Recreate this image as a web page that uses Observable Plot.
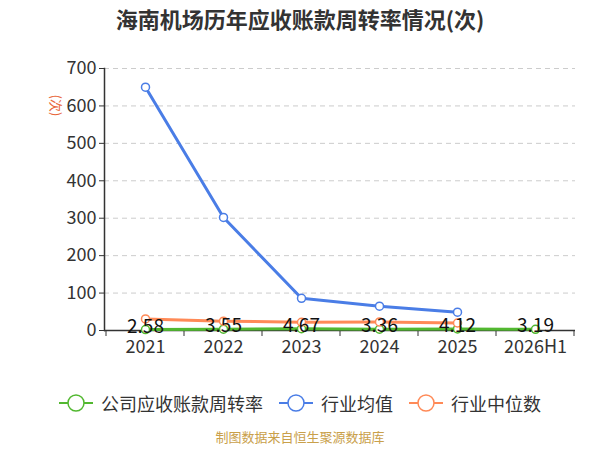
<!DOCTYPE html>
<html><head><meta charset="utf-8">
<script src="https://cdn.jsdelivr.net/npm/d3@7"></script>
<script src="https://cdn.jsdelivr.net/npm/@observablehq/plot@0.6"></script>
<style>
body{margin:0;background:#fff;font-family:"Noto Sans CJK SC","Noto Sans",sans-serif;width:600px;height:450px;overflow:hidden;position:relative}
#title{height:40px;line-height:36px;text-align:center;font-size:22px;font-weight:bold;color:#333}
#legend{display:flex;justify-content:center;align-items:center;gap:16px;font-size:18px;color:#333;height:26px;margin-top:10px}
.item{display:flex;align-items:center;gap:8px}
#caption{text-align:center;font-size:13px;color:#c9a04a;margin-top:11px}
</style></head><body>
<div id="title">海南机场历年应收账款周转率情况(次)</div>
<div id="chart"></div>
<div id="legend"></div>
<div id="caption">制图数据来自恒生聚源数据库</div>
<script>
const categories = ["2021","2022","2023","2024","2025","2026H1"];
const companyValues = [2.58, 3.55, 4.67, 3.36, 4.12, 3.19];
const industryMean = [650, 302, 86, 65, 49, null];
const industryMedian = [31, 25, 22, 23, 20, null];
const seriesNames = ["公司应收账款周转率","行业均值","行业中位数"];
const colors = ["#52b830","#4a7de6","#ff8a57"];
const yTicks = [0,100,200,300,400,500,600,700];

const rows = [];
categories.forEach((c,i)=>{
  rows.push({cat:c, v:companyValues[i], s:seriesNames[0]});
  if (industryMean[i]!=null) rows.push({cat:c, v:industryMean[i], s:seriesNames[1]});
  if (industryMedian[i]!=null) rows.push({cat:c, v:industryMedian[i], s:seriesNames[2]});
});
const company = rows.filter(d=>d.s===seriesNames[0]);

const W=600, H=340, mL=104, mR=25, mT=28, mB=50;

const chart = Plot.plot({
  width:W, height:H, marginLeft:mL, marginRight:mR, marginTop:mT, marginBottom:mB,
  style:{fontFamily:'"Noto Sans CJK SC","Noto Sans",sans-serif', fontSize:"18px", color:"#333", background:"#fff"},
  x:{type:"band", domain:categories, padding:0, label:null},
  y:{domain:[0,700], ticks:yTicks, label:null},
  color:{domain:seriesNames, range:colors},
  marks:[
    Plot.ruleY(yTicks.filter(t=>t>0), {stroke:"#ccc", strokeDasharray:"5,4", strokeWidth:1}),
    Plot.axisY({ticks:yTicks, tickSize:5, tickPadding:3, fontSize:18, stroke:"#333", fill:"#333", label:null}),
    Plot.frame({anchor:"left", stroke:"#333", strokeWidth:1.5}),
    Plot.axisX({tickSize:0, tickPadding:10, fontSize:18, fill:"#333", label:null}),
    Plot.ruleX(categories, {x:d=>d, render:(index, scales, values, dims, ctx, next)=>{
      const g = d3.create("svg:g");
      const x = scales.x, y0 = scales.y(0);
      const bw = scales.scales.x.bandwidth;
      const pos = categories.map(c=>x(c)).concat([x(categories[categories.length-1])+bw]);
      pos.forEach(p=>g.append("line").attr("x1",p).attr("x2",p).attr("y1",y0).attr("y2",y0+6).attr("stroke","#333"));
      return g.node();
    }}),
    Plot.ruleY([0], {stroke:"#333", strokeWidth:1.5}),
    Plot.line(rows, {x:"cat", y:"v", z:"s", stroke:"s", strokeWidth:3}),
    Plot.dot(rows, {x:"cat", y:"v", stroke:"s", fill:"#fff", r:4, strokeWidth:1.5}),
    Plot.text(company, {x:"cat", y:"v", text:d=>d.v.toFixed(2), fill:"#111", fontSize:19, dy:-3}),
    Plot.text(["(次)"], {frameAnchor:"top-left", dx:-44, dy:26, rotate:90, fill:"#e8663a", fontSize:13})
  ]
});
document.getElementById("chart").appendChild(chart);

const legend = document.getElementById("legend");
seriesNames.forEach((n,i)=>{
  const it = document.createElement("div"); it.className="item";
  it.innerHTML = `<svg width="34" height="18"><line x1="0" y1="9" x2="34" y2="9" stroke="${colors[i]}" stroke-width="2"/><circle cx="17" cy="9" r="8" fill="#fff" stroke="${colors[i]}" stroke-width="1.5"/></svg><span>${n}</span>`;
  legend.appendChild(it);
});
</script>
</body></html>
